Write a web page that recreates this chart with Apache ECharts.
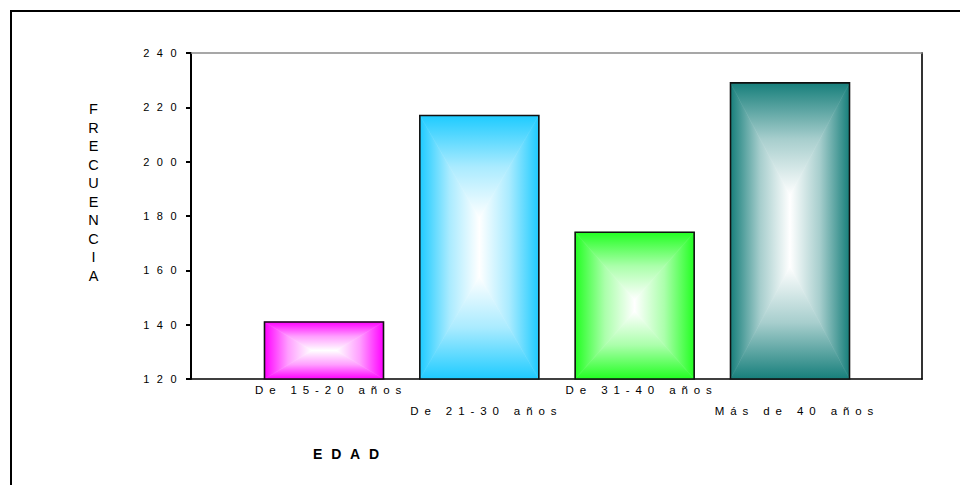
<!DOCTYPE html>
<html><head><meta charset="utf-8">
<script src="https://cdn.jsdelivr.net/npm/echarts@6/dist/echarts.min.js"></script>
<style>
html,body{margin:0;padding:0;background:#fff;}
#c{width:960px;height:485px;}
#c text[style*="11px"]{letter-spacing:7.5px;}
#c text[style*="11.5px"]{letter-spacing:5.9px;}
#c text[style*="14px"]{letter-spacing:8.8px;}
</style></head>
<body><div id="c"></div>
<script>
const categories = ['De 15-20 años', 'De 21-30 años', 'De 31-40 años', 'Más de 40 años'];
const frequencies = [141, 217, 174, 229];
const barColors = ['#ff00ff', '#1ecbff', '#22ff22', '#177f7b'];
const yTicks = [120, 140, 160, 180, 200, 220, 240];
const yTitle = 'FRECUENCIA';
const xTitle = 'EDAD';

const FONT = 'Liberation Sans, Arial, sans-serif';
const BAR_W = 119;
const yMin = yTicks[0], yMax = yTicks[yTicks.length - 1], yStep = yTicks[1] - yTicks[0];

function renderBar(params, api) {
  const i = api.value(0), v = api.value(1);
  const top = api.coord([i, v]);
  const base = api.coord([i, yMin]);
  const w = BAR_W;
  const x0 = top[0] - w / 2, x1 = top[0] + w / 2, y0 = top[1], y1 = base[1];
  const h = y1 - y0;
  const cx = top[0], cy = (y0 + y1) / 2;
  const c = barColors[params.dataIndex];
  const mid = echarts.color.lerp(0.62, [c, '#ffffff']);
  function grad(a, b, d, e) {
    return new echarts.graphic.LinearGradient(a, b, d, e, [
      { offset: 0, color: c }, { offset: 0.5, color: mid }, { offset: 1, color: '#ffffff' }
    ]);
  }
  function poly(pts, g) {
    return { type: 'polygon', shape: { points: pts }, style: { fill: g, stroke: g, lineWidth: 0.6 } };
  }
  let parts;
  if (w >= h) {
    const d = 0.4 * (w - h) / 2;
    const p1 = [cx - d, cy], p2 = [cx + d, cy];
    parts = [
      poly([[x0, y0], [x1, y0], p2, p1], grad(0, 0, 0, 1)),
      poly([[x0, y1], [x1, y1], p2, p1], grad(0, 1, 0, 0)),
      poly([[x0, y0], [x0, y1], p1], grad(0, 0, 1, 0)),
      poly([[x1, y0], [x1, y1], p2], grad(1, 0, 0, 0))
    ];
  } else {
    const d = 0.4 * (h - w) / 2;
    const p1 = [cx, cy - d], p2 = [cx, cy + d];
    parts = [
      poly([[x0, y0], [x1, y0], p1], grad(0, 0, 0, 1)),
      poly([[x0, y1], [x1, y1], p2], grad(0, 1, 0, 0)),
      poly([[x0, y0], [x0, y1], p2, p1], grad(0, 0, 1, 0)),
      poly([[x1, y0], [x1, y1], p2, p1], grad(1, 0, 0, 0))
    ];
  }
  parts.push({ type: 'rect', shape: { x: x0, y: y0, width: w, height: h },
    style: { fill: 'none', stroke: '#111', lineWidth: 1.6 } });
  return { type: 'group', children: parts };
}

const chart = echarts.init(document.getElementById('c'), null, { renderer: 'svg' });

chart.setOption({
  animation: false,
  backgroundColor: '#ffffff',
  grid: [
    { left: 191, right: 38, top: 53, bottom: 106 },
    { left: 246.33, right: 92.33, top: 53, bottom: 106 }
  ],
  xAxis: [
    { gridIndex: 0, type: 'category', data: [], axisLine: { lineStyle: { color: '#000', width: 1.5 } },
      axisTick: { show: false }, axisLabel: { show: false }, splitLine: { show: false } },
    { gridIndex: 0, type: 'category', position: 'top', data: [], axisLine: { lineStyle: { color: '#8a8a8a', width: 1.5 } },
      axisTick: { show: false }, axisLabel: { show: false }, splitLine: { show: false } },
    { gridIndex: 1, type: 'category', data: categories, axisLine: { show: false },
      axisTick: { alignWithLabel: true, length: 2, lineStyle: { color: '#222', width: 3 } },
      axisLabel: {
        interval: 0, fontSize: 11.5, fontFamily: FONT, color: '#000', lineHeight: 21,
        verticalAlign: 'top', margin: 0, padding: [0, 0, 0, 14],
        formatter: function (v, i) { return i % 2 ? '\n' + v : v; }
      },
      splitLine: { show: false } }
  ],
  yAxis: [
    { gridIndex: 0, type: 'value', min: yMin, max: yMax, interval: yStep,
      axisLine: { show: true, lineStyle: { color: '#000', width: 2 } },
      axisTick: { show: true, length: 5, lineStyle: { color: '#000', width: 2 } },
      axisLabel: { fontSize: 11, fontFamily: FONT, color: '#000', margin: 7 },
      splitLine: { show: false } },
    { gridIndex: 0, type: 'value', position: 'right', min: yMin, max: yMax, interval: yStep,
      axisLine: { show: true, lineStyle: { color: '#333', width: 2 } },
      axisTick: { show: false }, axisLabel: { show: false }, splitLine: { show: false } },
    { gridIndex: 1, type: 'value', min: yMin, max: yMax, interval: yStep, show: false, splitLine: { show: false } }
  ],
  series: [
    { type: 'custom', xAxisIndex: 2, yAxisIndex: 2, silent: true, renderItem: renderBar,
      encode: { x: 0, y: 1 },
      data: frequencies.map(function (v, i) { return [i, v]; }) }
  ],
  graphic: [
    { type: 'rect', silent: true, shape: { x: 11, y: 11, width: 1200, height: 1200 },
      style: { fill: 'none', stroke: '#000', lineWidth: 2 } },
    { type: 'text', silent: true, x: 93.5, y: 100,
      style: { text: yTitle, fontSize: 14.5, fontFamily: FONT, fill: '#000', width: 6, overflow: 'breakAll',
        lineHeight: 18.5, align: 'center', verticalAlign: 'top' } },
    { type: 'text', silent: true, x: 313, y: 454,
      style: { text: xTitle, fontSize: 14, fontWeight: 'bold', fontFamily: FONT, fill: '#000',
        align: 'left', verticalAlign: 'middle' } }
  ]
});
</script>
</body></html>
